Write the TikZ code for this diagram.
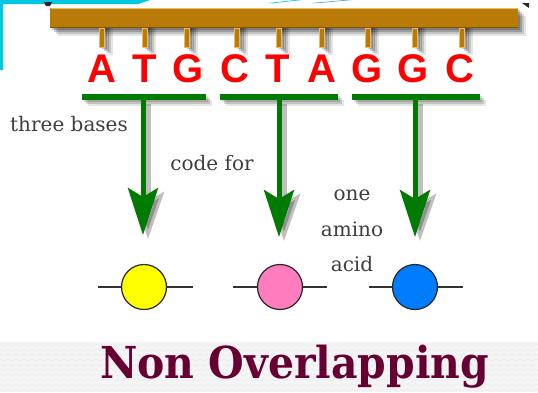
\documentclass[tikz,border=0pt]{standalone}
\usepackage{fontspec}
\setmainfont{DejaVu Serif}
\newfontfamily\basefont{Liberation Sans}
\newfontfamily\labelfont{DejaVu Serif}
\usetikzlibrary{arrows.meta}

\definecolor{dnabrown}{RGB}{186,122,8}
\definecolor{dnaedge}{RGB}{232,186,100}
\definecolor{codongreen}{RGB}{0,122,0}
\definecolor{basered}{RGB}{255,0,0}
\definecolor{aayellow}{RGB}{255,255,0}
\definecolor{aapink}{RGB}{255,125,190}
\definecolor{aablue}{RGB}{0,125,255}
\definecolor{titlemaroon}{RGB}{102,0,51}
\definecolor{slidecyan}{RGB}{0,200,225}
\definecolor{slideblue}{RGB}{50,140,220}
\definecolor{labelgray}{RGB}{62,62,62}

\tikzset{
  base/.style={font=\basefont\bfseries\fontsize{40}{40}\selectfont, text=basered, anchor=base, inner sep=0},
  tick/.style={fill=dnabrown, draw=dnaedge, line width=0.6},
  codonbar/.style={fill=codongreen, draw=none},
  codonarrow/.style={draw=codongreen, line width=5,
    -{Stealth[length=47, width=30, inset=9]}},
  arrowshade/.style={draw=black, opacity=0.25, line width=6,
    -{Stealth[length=47, width=32, inset=9]}},
  acid/.style={circle, draw=black!85, line width=1.2, minimum size=45, inner sep=0},
  bond/.style={draw=black!80, line width=1.5},
  lbl/.style={font=\labelfont\fontsize{20}{20}\selectfont, text=labelgray, anchor=base, inner sep=0},
}

\begin{document}
\begin{tikzpicture}[x=1pt,y=-1pt]
\useasboundingbox (0,0) rectangle (538,392);
\fill[white] (0,0) rectangle (538,392);

% slide background band with a faint zigzag texture
\fill[black!4] (0,342) rectangle (538,392);
\foreach \r in {344,349,...,392}{
  \draw[black!8, line width=0.6] (0,\r) \foreach \i in {0,...,67}{ -- ({\i*8+4},\r+2) -- ({\i*8+8},\r) };
}

% slide frame decoration
\fill[slidecyan] (0,0) -- (150,0) -- (138,4) -- (3,4) -- (3,70) -- (0,70) -- cycle;
\fill[slidecyan] (268,3) -- (296,0) -- (302,0) -- (274,3) -- cycle;
\fill[slideblue] (312,3) -- (346,0) -- (352,0) -- (318,3) -- cycle;
\fill[black!85] (44,2) -- (52,2) -- (50,6) -- (46,6) -- cycle;
\fill[black!85] (522,3) -- (529,3) -- (529,8) -- cycle;

% shadow under the backbone and its ticks
\foreach \d/\o in {8/0.1,6/0.14,4/0.2,2/0.2}{
  \fill[black, opacity=\o] (50+\d,8+\d) rectangle (518+\d,28+\d);
  \foreach \x in {102,145,187,237,279,322,368,415,462}
    \fill[black, opacity=\o] (\x-2.5+\d,28) rectangle (\x+2.5+\d,47+\d);
}

% DNA backbone
\fill[dnabrown] (50,8) rectangle (518,28);
\draw[dnaedge, line width=1] (50.5,8.5) -- (517.5,8.5);
\draw[black!30!dnabrown, line width=0.8] (50,27.6) -- (518,27.6);
\foreach \x [count=\k] in {102,145,187,237,279,322,368,415,462}
  \draw[tick] (\x-2.5,28) rectangle (\x+2.5,47) coordinate (t\k);

% bases
\foreach \x/\b [count=\k] in {102/A,145/T,188/G,235/C,278/T,322/A,367/G,413/G,460/C}
  \node[base] (b\k) at (\x,82) {\b};

% codon bars with their shadows
\foreach \l/\r/\n in {82/206/1,220/338/2,352/480/3}{
  \foreach \d/\o in {6/0.1,4/0.15,2/0.15}
    \fill[black, opacity=\o] (\l+\d,94+\d) rectangle (\r+\d,100+\d);
  \path[codonbar] (\l,94) rectangle (\r,100);
}
\node[inner sep=0, minimum width=124, minimum height=6] (c1) at (144,97) {};
\node[inner sep=0, minimum width=118, minimum height=6] (c2) at (279,97) {};
\node[inner sep=0, minimum width=128, minimum height=6] (c3) at (416,97) {};

% amino acids on their chain stubs
\node[acid, fill=aayellow] (a1) at (144,287) {};
\node[acid, fill=aapink]   (a2) at (280,287) {};
\node[acid, fill=aablue]   (a3) at (415,287) {};
\coordinate (a1l) at (98,287);  \coordinate (a1r) at (193,287);
\coordinate (a2l) at (233,287); \coordinate (a2r) at (327,287);
\coordinate (a3l) at (369,287); \coordinate (a3r) at (463,287);
\foreach \k in {1,2,3}{
  \draw[bond] (a\k l) -- (a\k.west);
  \draw[bond] (a\k.east) -- (a\k r);
}

% arrows from each codon towards its amino acid
\coordinate (p1) at (143,235);
\coordinate (p2) at (279,237);
\coordinate (p3) at (415,237);
\foreach \k in {1,2,3}{
  \draw[arrowshade, transform canvas={xshift=5pt, yshift=-4pt}] (c\k.south -| p\k) -- (p\k);
  \draw[codonarrow] (c\k.south -| p\k) -- (p\k);
}

% labels
\node[lbl] (l1) at (69,131) {three bases};
\node[lbl] (l2) at (212,170) {code for};
\node[lbl] (l3) at (352,200) {one};
\node[lbl] (l4) at (352,236) {amino};
\node[lbl] (l5) at (352,271) {acid};

% title
\node[anchor=base west, inner sep=0, text=titlemaroon] (title) at (100,378)
  {\scalebox{0.93}[1]{\fontsize{44}{44}\selectfont\bfseries Non Overlapping}};
\end{tikzpicture}
\end{document}
